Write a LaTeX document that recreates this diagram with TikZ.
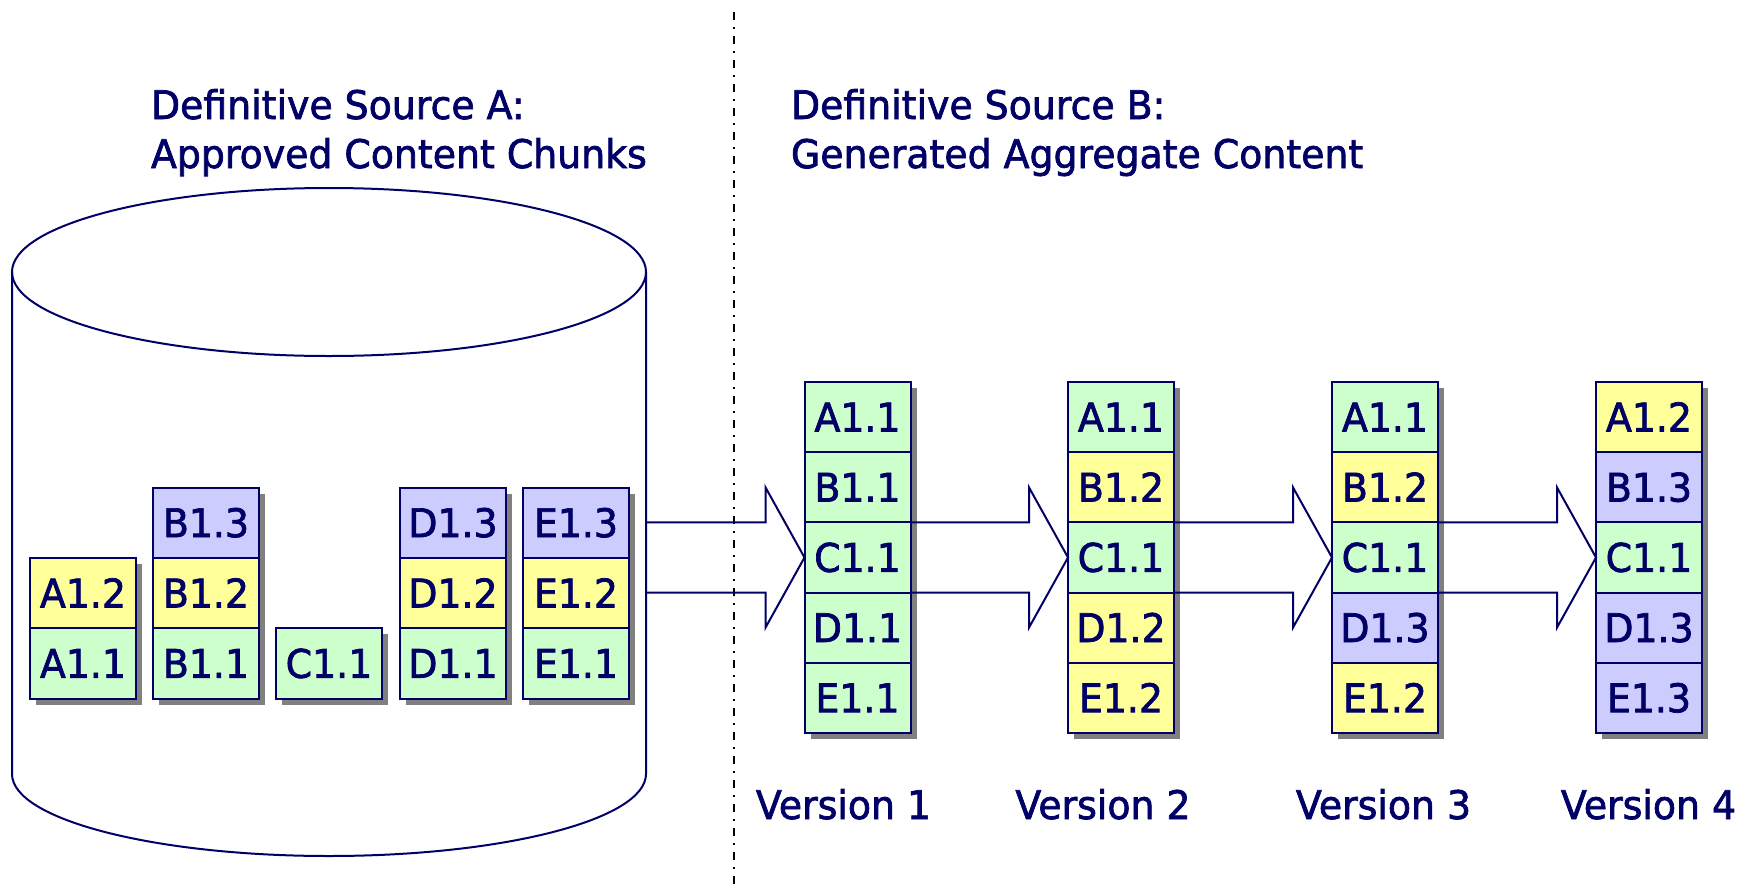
\documentclass[tikz,border=0pt]{standalone}
\usepackage{fontspec}
\setmainfont{DejaVu Sans}[FakeStretch=0.96, FakeBold=1.8]
\usetikzlibrary{shadows,calc}

\definecolor{navy}{HTML}{000066}
\definecolor{chunkgreen}{HTML}{CCFFCC}
\definecolor{chunkyellow}{HTML}{FFFF99}
\definecolor{chunkblue}{HTML}{CCCCFF}
\definecolor{shadowgray}{HTML}{808080}

\newcommand\labelfont{\fontsize{19.7pt}{24.5pt}\selectfont}

\tikzset{
  chunk/.style={draw=navy, line width=1pt, minimum width=53pt, minimum height=35.1pt,
    inner sep=0pt, outer sep=0pt, text height=14.3pt, text depth=0pt,
    font=\labelfont, text=navy,
    drop shadow={shadow xshift=3pt, shadow yshift=-3pt, fill=shadowgray, opacity=1}},
  gchunk/.style={chunk, fill=chunkgreen},
  ychunk/.style={chunk, fill=chunkyellow},
  bchunk/.style={chunk, fill=chunkblue},
  heading/.style={inner sep=0pt, outer sep=0pt, font=\labelfont, text=navy},
  flow/.style={draw=navy, line width=1pt},
  store/.style={draw=navy, line width=1pt},
  divider/.style={draw=black, line width=1pt, dash pattern=on 4pt off 3.5pt on 1pt off 3.5pt}
}

\begin{document}
\begin{tikzpicture}[x=0.5pt, y=-0.5pt]
\useasboundingbox (0,0) rectangle (1753,889);

% dash-dot divider between the two sources
\coordinate (divtop) at (734,12);
\coordinate (divbot) at (734,889);
\draw[divider] (divtop) -- (divbot);

% headings
\node[heading, anchor=base west] (ta1) at (151,119) {Definitive Source A:};
\node[heading, anchor=base west] (ta2) at (151,168) {Approved Content Chunks};
\node[heading, anchor=base west] (tb1) at (791,119) {Definitive Source B:};
\node[heading, anchor=base west] (tb2) at (791,168) {Generated Aggregate Content};

% repository cylinder
\draw[store] (329,272) ellipse [x radius=158.5pt, y radius=42pt];
\draw[store] (12,272) -- (12,774) arc [start angle=180, end angle=360, x radius=158.5pt, y radius=41pt] -- (646,272);
\coordinate (cylE) at (646,557.5);

% approved chunks inside the repository
\node[ychunk] (a2) at (83,593.1) {A1.2};
\node[gchunk] (a1) at (83,663.5) {A1.1};

\node[bchunk] (b3) at (206,522.8) {B1.3};
\node[ychunk] (b2) at (206,593.1) {B1.2};
\node[gchunk] (b1) at (206,663.5) {B1.1};

\node[gchunk] (c1) at (329,663.5) {C1.1};

\node[bchunk] (d3) at (453,522.8) {D1.3};
\node[ychunk] (d2) at (453,593.1) {D1.2};
\node[gchunk] (d1) at (453,663.5) {D1.1};

\node[bchunk] (e3) at (576,522.8) {E1.3};
\node[ychunk] (e2) at (576,593.1) {E1.2};
\node[gchunk] (e1) at (576,663.5) {E1.1};

% version 1
\node[gchunk] (v1a) at (857.5,417.1) {A1.1};
\node[gchunk] (v1b) at (857.5,487.3) {B1.1};
\node[gchunk] (v1c) at (857.5,557.5) {C1.1};
\node[gchunk] (v1d) at (857.5,627.7) {D1.1};
\node[gchunk] (v1e) at (857.5,697.9) {E1.1};

% version 2
\node[gchunk] (v2a) at (1121,417.1) {A1.1};
\node[ychunk] (v2b) at (1121,487.3) {B1.2};
\node[gchunk] (v2c) at (1121,557.5) {C1.1};
\node[ychunk] (v2d) at (1121,627.7) {D1.2};
\node[ychunk] (v2e) at (1121,697.9) {E1.2};

% version 3
\node[gchunk] (v3a) at (1385,417.1) {A1.1};
\node[ychunk] (v3b) at (1385,487.3) {B1.2};
\node[gchunk] (v3c) at (1385,557.5) {C1.1};
\node[bchunk] (v3d) at (1385,627.7) {D1.3};
\node[ychunk] (v3e) at (1385,697.9) {E1.2};

% version 4
\node[ychunk] (v4a) at (1649,417.1) {A1.2};
\node[bchunk] (v4b) at (1649,487.3) {B1.3};
\node[gchunk] (v4c) at (1649,557.5) {C1.1};
\node[bchunk] (v4d) at (1649,627.7) {D1.3};
\node[bchunk] (v4e) at (1649,697.9) {E1.3};

% version captions
\node[heading, anchor=base] (ver1) at (843.5,819) {Version 1};
\node[heading, anchor=base] (ver2) at (1103,819) {Version 2};
\node[heading, anchor=base] (ver3) at (1383.5,819) {Version 3};
\node[heading, anchor=base] (ver4) at (1648.5,819) {Version 4};

% block arrows: repository -> version 1 -> ... -> version 4
\draw[flow] (cylE |- v1c.north) -- ($(v1c.north west)+(-39,0)$) -- ++(0,-35)
  -- (v1c.west) -- ($(v1c.south west)+(-39,35)$) -- ++(0,-35) -- (cylE |- v1c.south);
\draw[flow] (v1c.north east) -- ($(v2c.north west)+(-39,0)$) -- ++(0,-35)
  -- (v2c.west) -- ($(v2c.south west)+(-39,35)$) -- ++(0,-35) -- (v1c.south east);
\draw[flow] (v2c.north east) -- ($(v3c.north west)+(-39,0)$) -- ++(0,-35)
  -- (v3c.west) -- ($(v3c.south west)+(-39,35)$) -- ++(0,-35) -- (v2c.south east);
\draw[flow] (v3c.north east) -- ($(v4c.north west)+(-39,0)$) -- ++(0,-35)
  -- (v4c.west) -- ($(v4c.south west)+(-39,35)$) -- ++(0,-35) -- (v3c.south east);
\end{tikzpicture}
\end{document}
